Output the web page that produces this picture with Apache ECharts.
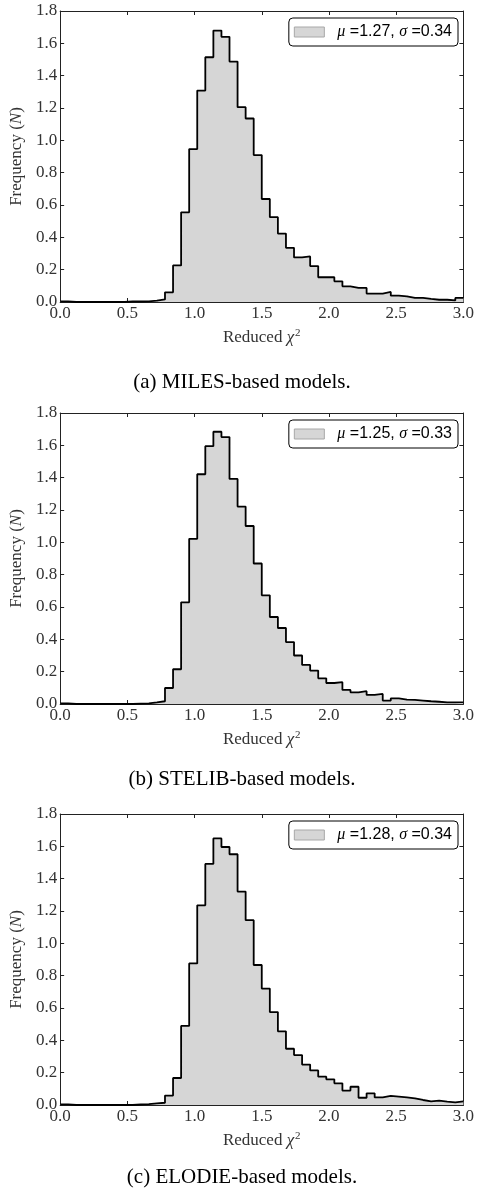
<!DOCTYPE html>
<html>
<head>
<meta charset="utf-8">
<script src="https://cdn.jsdelivr.net/npm/echarts@6/dist/echarts.min.js"></script>
<style>
  html, body { margin: 0; padding: 0; background: #ffffff; }
  #chart { width: 477px; height: 1195px; }
</style>
</head>
<body>
<div id="chart"></div>
<script>
// Histogram bins: 50 bins of width 0.06 covering reduced chi^2 from 0 to 3
const binStart = 0.0;
const binWidth = 0.06;

// Normalised frequency per bin, one array per stellar library
const milesValues = [
  0.004, 0, 0, 0, 0, 0, 0, 0, 0.003, 0.003,
  0.004, 0.008, 0.016, 0.060, 0.226, 0.555, 0.946, 1.308, 1.514, 1.679,
  1.640, 1.487, 1.205, 1.135, 0.909, 0.637, 0.525, 0.423, 0.335, 0.276,
  0.282, 0.222, 0.153, 0.153, 0.128, 0.097, 0.087, 0.087, 0.052, 0.052,
  0.062, 0.039, 0.035, 0.025, 0.025, 0.019, 0.014, 0.014, 0.010, 0.025
];
const stelibValues = [
  0.004, 0, 0, 0, 0, 0, 0, 0, 0, 0.002,
  0.004, 0.010, 0.017, 0.099, 0.215, 0.629, 1.022, 1.421, 1.595, 1.684,
  1.651, 1.392, 1.221, 1.101, 0.869, 0.672, 0.538, 0.470, 0.383, 0.300,
  0.242, 0.207, 0.159, 0.130, 0.135, 0.087, 0.072, 0.079, 0.056, 0.062,
  0.021, 0.035, 0.027, 0.025, 0.021, 0.017, 0.014, 0.010, 0.010, 0.010
];
const elodieValues = [
  0.004, 0, 0, 0, 0, 0, 0, 0, 0, 0.003,
  0.006, 0.010, 0.014, 0.058, 0.167, 0.489, 0.876, 1.235, 1.491, 1.649,
  1.596, 1.551, 1.320, 1.143, 0.866, 0.720, 0.575, 0.456, 0.348, 0.309,
  0.250, 0.214, 0.175, 0.159, 0.134, 0.089, 0.113, 0.045, 0.072, 0.047,
  0.056, 0.052, 0.047, 0.041, 0.031, 0.023, 0.027, 0.021, 0.016, 0.023
];

// Summary statistics shown in each legend
const means = [1.27, 1.25, 1.28];
const sigmas = [0.34, 0.33, 0.34];

// Panel captions
const captions = [
  '(a) MILES-based models.',
  '(b) STELIB-based models.',
  '(c) ELODIE-based models.'
];

// Axis ranges and tick steps
const xMin = 0, xMax = 3, xStep = 0.5;
const yMin = 0, yMax = 1.8, yStep = 0.2;

const panels = [milesValues, stelibValues, elodieValues];

// Layout
const gridLeft = 58;
const gridWidth = 408;
const gridHeight = 291;
const gridTops = [11, 413, 814];
const captionY = [382, 779, 1177];

const serif = 'Liberation Serif';
const sans = 'Liberation Sans';
const ink = '#222';
const labelColor = '#333';

// Build step-outline points from bin edges
function stepData(values) {
  const pts = values.map((v, i) => [+(binStart + i * binWidth).toFixed(4), v]);
  pts.push([+(binStart + values.length * binWidth).toFixed(4), values[values.length - 1]]);
  return pts;
}

function legendName(i) {
  return 'μ =' + means[i].toFixed(2) + ', σ =' + sigmas[i].toFixed(2);
}

const grids = [], xAxes = [], yAxes = [], series = [], legends = [], graphics = [];

panels.forEach((values, i) => {
  grids.push({ left: gridLeft, top: gridTops[i], width: gridWidth, height: gridHeight, containLabel: false });

  const tickStyle = { show: true, inside: true, length: 4, lineStyle: { color: ink, width: 1 } };
  const lineStyle = { show: true, onZero: false, lineStyle: { color: ink, width: 1 } };

  // bottom x axis with labels
  xAxes.push({
    type: 'value', gridIndex: i, position: 'bottom',
    min: xMin, max: xMax, interval: xStep,
    axisLine: lineStyle, axisTick: tickStyle, splitLine: { show: false },
    axisLabel: {
      margin: 3, fontFamily: serif, fontSize: 17, color: labelColor,
      showMinLabel: true, showMaxLabel: true,
      formatter: v => v.toFixed(1)
    },
    name: '{r|Reduced }{x|χ}{s|2}',
    nameLocation: 'middle', nameGap: 26,
    nameTextStyle: {
      fontFamily: serif, fontSize: 17, color: labelColor,
      rich: {
        r: { fontFamily: serif, fontSize: 17, color: labelColor, verticalAlign: 'bottom' },
        x: { fontFamily: serif, fontStyle: 'italic', fontSize: 17, color: labelColor, verticalAlign: 'bottom' },
        s: { fontFamily: serif, fontSize: 11, color: labelColor, verticalAlign: 'bottom', padding: [0, 0, 7, 1] }
      }
    }
  });
  // top x axis: ticks only
  xAxes.push({
    type: 'value', gridIndex: i, position: 'top',
    min: xMin, max: xMax, interval: xStep,
    axisLine: lineStyle, axisTick: tickStyle, splitLine: { show: false },
    axisLabel: { show: false }
  });
  // left y axis with labels
  yAxes.push({
    type: 'value', gridIndex: i, position: 'left',
    min: yMin, max: yMax, interval: yStep,
    axisLine: lineStyle, axisTick: tickStyle, splitLine: { show: false },
    axisLabel: {
      margin: 3, fontFamily: serif, fontSize: 17, color: labelColor,
      showMinLabel: true, showMaxLabel: true,
      formatter: v => v.toFixed(1)
    },
    name: '{r|Frequency (}{n|N}{r|)}',
    nameLocation: 'middle', nameGap: 29,
    nameTextStyle: {
      fontFamily: serif, fontSize: 17, color: labelColor,
      rich: {
        r: { fontFamily: serif, fontSize: 17, color: labelColor },
        n: { fontFamily: serif, fontStyle: 'italic', fontSize: 17, color: labelColor }
      }
    }
  });
  // right y axis: ticks only
  yAxes.push({
    type: 'value', gridIndex: i, position: 'right',
    min: yMin, max: yMax, interval: yStep,
    axisLine: lineStyle, axisTick: tickStyle, splitLine: { show: false },
    axisLabel: { show: false }
  });

  const name = legendName(i);
  series.push({
    type: 'line', name: name,
    xAxisIndex: i * 2, yAxisIndex: i * 2,
    data: stepData(values),
    step: 'end', symbol: 'none', silent: true,
    lineStyle: { color: '#000', width: 1.8 },
    itemStyle: { color: '#d6d6d6' },
    areaStyle: { color: '#d6d6d6', opacity: 1 },
    z: 1
  });

  legends.push({
    data: [{ name: name, icon: 'rect', itemStyle: { color: '#d6d6d6', borderColor: '#a8a8a8', borderWidth: 1 } }],
    right: 19, top: gridTops[i] + 7,
    orient: 'horizontal',
    itemWidth: 30, itemHeight: 10,
    padding: [6, 6, 6, 5],
    backgroundColor: '#fff',
    borderColor: '#000', borderWidth: 1, borderRadius: 4,
    selectedMode: false,
    formatter: () => '{p|}{g|μ}{t| =' + means[i].toFixed(2) + ', }{g|σ}{t| =' + sigmas[i].toFixed(2) + '}',
    textStyle: {
      rich: {
        p: { width: 8 },
        g: { fontFamily: serif, fontStyle: 'italic', fontSize: 16, color: '#000' },
        t: { fontFamily: sans, fontSize: 16, color: '#000' }
      }
    }
  });

  graphics.push({
    type: 'text', x: 242, y: captionY[i], silent: true,
    style: {
      text: captions[i], align: 'center', verticalAlign: 'middle',
      font: '21px "Liberation Serif"', fill: '#000'
    }
  });
});

const chart = echarts.init(document.getElementById('chart'), null, { renderer: 'canvas' });
chart.setOption({
  backgroundColor: '#ffffff',
  animation: false,
  grid: grids,
  xAxis: xAxes,
  yAxis: yAxes,
  legend: legends,
  series: series,
  graphic: graphics
});
</script>
</body>
</html>
